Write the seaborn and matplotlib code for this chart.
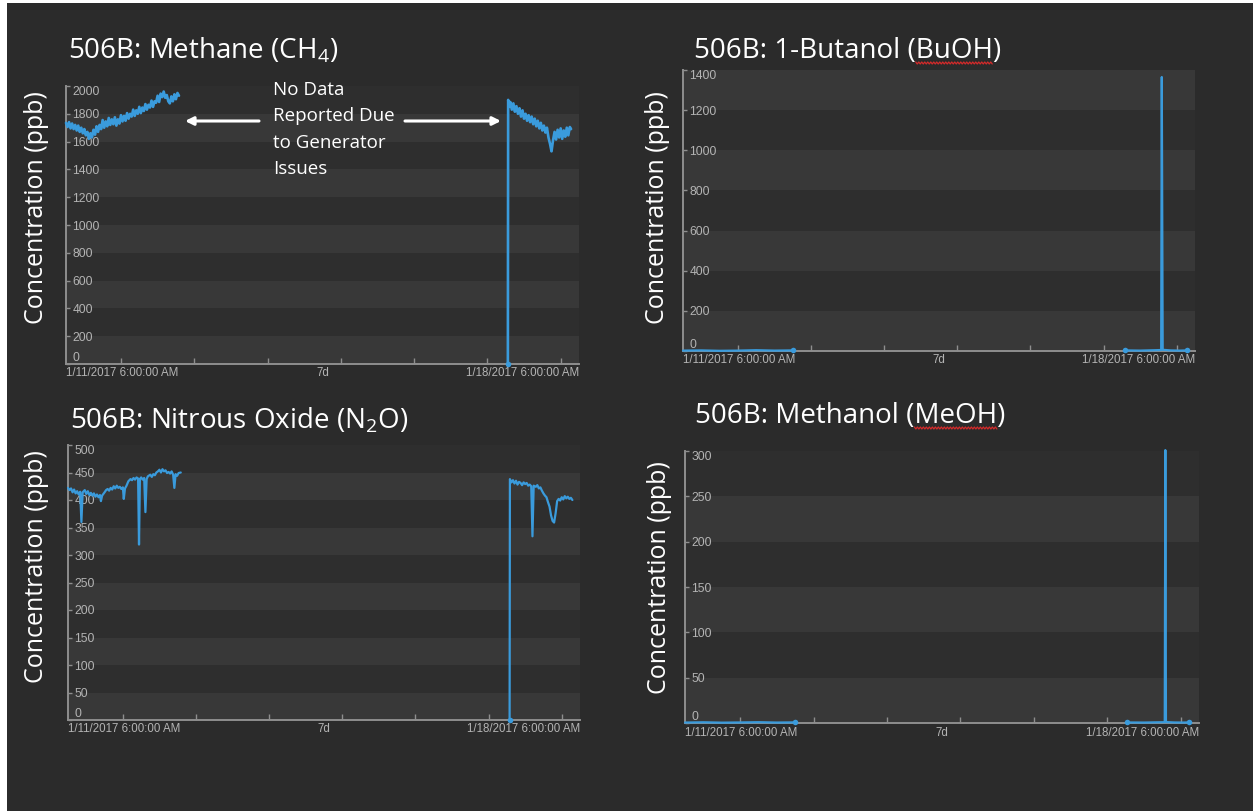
import numpy as np
import pandas as pd
import matplotlib
matplotlib.use("Agg")
import matplotlib.pyplot as plt
from matplotlib.lines import Line2D
from matplotlib.patches import Rectangle, FancyArrowPatch
from matplotlib.transforms import IdentityTransform
import seaborn as sns

# x values: hours after 1/11/2017 6:00 AM (7 day window)
CH4_H1 = [0, 0.5, 1, 1.5, 2, 2.5, 3, 3.5, 4, 4.5, 5, 5.5, 6, 6.5, 7, 7.5, 8, 8.5, 9, 9.5,
          10, 10.5, 11, 11.5, 12, 12.5, 13, 13.5, 14, 14.5, 15, 15.5, 16, 16.5, 17, 17.5,
          18, 18.5, 19, 19.5, 20, 20.5, 21, 21.5, 22, 22.5, 23, 23.5, 24, 24.5, 25, 25.5,
          26, 26.5, 27, 27.5, 28, 28.5, 29, 29.5, 30, 30.5, 31, 31.5, 32, 32.5, 33, 33.5,
          34, 34.5, 35, 35.5, 36, 36.5, 37]
CH4_V1 = [1735, 1705, 1740, 1695, 1730, 1690, 1720, 1680, 1715, 1670, 1700, 1660, 1690, 1645,
          1670, 1620, 1660, 1630, 1685, 1650, 1710, 1670, 1720, 1690, 1755, 1700, 1745, 1710,
          1770, 1720, 1760, 1725, 1775, 1715, 1760, 1730, 1790, 1745, 1785, 1750, 1805, 1765,
          1800, 1780, 1830, 1785, 1825, 1800, 1850, 1805, 1845, 1820, 1870, 1830, 1865, 1845,
          1895, 1850, 1890, 1880, 1930, 1885, 1945, 1920, 1960, 1915, 1935, 1890, 1875, 1925,
          1890, 1940, 1905, 1950, 1930]
CH4_H2 = [144.7, 144.8, 145.2, 145.5, 146, 146.5, 147, 147.5, 148, 148.5, 149, 149.5, 150,
          150.5, 151, 151.5, 152, 152.5, 153, 153.5, 154, 154.5, 155, 155.5, 156, 156.5, 157,
          157.5, 158, 158.5, 159, 159.5, 160, 160.5, 161, 161.5, 162, 162.5, 163, 163.5, 164,
          164.5, 165, 165.4]
CH4_V2 = [0, 1900, 1850, 1885, 1830, 1875, 1815, 1855, 1800, 1840, 1780, 1825, 1765,
          1800, 1750, 1790, 1740, 1780, 1725, 1765, 1710, 1750, 1695, 1735, 1680, 1715, 1665,
          1700, 1630, 1585, 1530, 1610, 1670, 1615, 1685, 1630, 1695, 1620, 1680, 1635, 1700,
          1645, 1705, 1690]

N2O_H1 = [0, 0.5, 1, 1.5, 2, 2.5, 3, 3.5, 4, 4.4, 4.8, 5.5, 6, 6.5, 7, 7.5, 8, 8.5, 9, 9.5,
          10, 10.5, 10.8, 11.2, 12, 12.5, 13, 13.5, 14, 14.5, 15, 15.5, 16, 16.5, 17, 17.5, 18,
          18.3, 18.7, 19.2, 19.8, 20.5, 21, 21.5, 22, 22.5, 23, 23.3, 23.6, 24, 24.5, 25, 25.4,
          25.8, 26.2, 27, 27.5, 28, 28.5, 29, 29.5, 30, 30.5, 31, 31.5, 32, 32.5, 33, 33.5, 34,
          34.5, 34.9, 35.3, 35.8, 36.3, 37]
N2O_V1 = [422, 418, 421, 414, 419, 412, 416, 410, 415, 360, 414, 418, 411, 416, 409, 413, 408,
          412, 406, 410, 405, 409, 398, 408, 414, 418, 420, 417, 422, 419, 425, 421, 426, 422,
          424, 420, 423, 402, 421, 426, 434, 438, 436, 440, 437, 441, 439, 319, 438, 441, 437,
          440, 378, 438, 443, 446, 442, 447, 445, 450, 452, 455, 450, 456, 452, 454, 449, 451,
          448, 452, 446, 422, 447, 444, 449, 450]
N2O_H2 = [144.9, 145.0, 145.5, 146, 146.5, 147, 147.5, 148, 148.5, 149, 149.5, 150, 150.5,
          151, 151.5, 152, 152.4, 152.8, 153.5, 154, 154.5, 155, 155.5, 156, 156.5, 157, 157.5,
          158, 158.5, 159, 159.5, 160, 160.5, 161, 161.5, 162, 162.5, 163, 163.5, 164, 164.5,
          165, 165.5]
N2O_V2 = [0, 438, 432, 436, 430, 435, 428, 433, 431, 427, 432, 429, 431, 426, 428, 425, 334,
          426, 424, 427, 421, 423, 417, 412, 408, 405, 396, 388, 372, 362, 359, 376, 398, 402,
          399, 405, 401, 407, 403, 406, 402, 404, 400]

BUOH_H1 = [0, 6, 12, 18, 24, 30, 36.2]
BUOH_V1 = [2, 3, 1, 2, 4, 2, 3]
BUOH_H2 = [145, 150, 155, 156.9, 157.1, 157.4, 160, 163, 165.4]
BUOH_V2 = [3, 2, 4, 5, 1365, 6, 3, 2, 3]

MEOH_H1 = [0, 6, 12, 18, 24, 30, 36]
MEOH_V1 = [0.5, 0.8, 0.4, 0.6, 0.9, 0.5, 0.7]
MEOH_H2 = [144.5, 150, 155, 156.8, 157.0, 157.2, 160, 163, 164.8]
MEOH_V2 = [0.6, 0.5, 0.8, 0.9, 301, 1.0, 0.6, 0.5, 0.7]

X_TICKS = [18, 42, 66, 90, 114, 138, 162]   # midnights
X_LABELS = ["1/11/2017 6:00:00 AM", "7d", "1/18/2017 6:00:00 AM"]
TITLES = ["506B: Methane (CH$_\\mathrm{4}$)", "506B: 1-Butanol (BuOH)",
          "506B: Nitrous Oxide (N$_\\mathrm{2}$O)", "506B: Methanol (MeOH)"]
YLABEL = "Concentration (ppb)"
NOTE = "No Data\nReported Due\nto Generator\nIssues"

BG = "#2b2b2b"
BAND_DARK = "#2e2e2e"
BAND_LIGHT = "#383838"
AXIS = "#8e8e8e"
TICK = "#b4b4b4"
LINE = "#3a9bdc"
W, H = 1253, 811

sns.set_theme(style="dark", rc={"axes.facecolor": BAND_DARK, "figure.facecolor": BG})
plt.rcParams["mathtext.fontset"] = "custom"
plt.rcParams["mathtext.rm"] = "Open Sans"
plt.rcParams["font.family"] = ["Open Sans", "DejaVu Sans"]

fig = plt.figure(figsize=(W / 100, H / 100), dpi=100, facecolor=BG)

# thin slide border seen at the left/top edge of the screenshot
fig.add_artist(Rectangle((0, 0), 7 / W, 1, transform=fig.transFigure, color="white", lw=0))
fig.add_artist(Rectangle((0, 1 - 3 / H), 1, 3 / H, transform=fig.transFigure, color="white", lw=0))


def px_axes(l, t, r, b):
    return fig.add_axes([l / W, 1 - b / H, (r - l) / W, (b - t) / H])


def draw_panel(ax, segs, ymax, ystep, dots, lw):
    frames = [pd.DataFrame({"hours": h, "ppb": v, "seg": i}) for i, (h, v) in enumerate(segs)]
    df = pd.concat(frames, ignore_index=True)

    ax.set_facecolor(BAND_DARK)
    for k, lo in enumerate(np.arange(0, ymax, ystep)):
        if k % 2 == 0:
            ax.axhspan(lo, lo + ystep, color=BAND_LIGHT, lw=0, zorder=0)

    sns.lineplot(data=df, x="hours", y="ppb", units="seg", estimator=None, color=LINE,
                 lw=lw, ax=ax, legend=False, clip_on=False, zorder=3)
    if dots:
        dx = [segs[i][0][j] for i, j in dots]
        dy = [segs[i][1][j] for i, j in dots]
        sns.scatterplot(x=dx, y=dy, color=LINE, s=16, linewidth=0, ax=ax,
                        clip_on=False, zorder=4)

    ax.set_xlim(0, 168)
    ax.set_ylim(0, ymax)
    ax.grid(False)
    ax.set_xlabel("")
    ax.set_ylabel("")
    for s in ["top", "right"]:
        ax.spines[s].set_visible(False)
    for s in ["left", "bottom"]:
        ax.spines[s].set_visible(True)
        ax.spines[s].set_color(AXIS)
        ax.spines[s].set_linewidth(1.4)

    ax.set_xticks(X_TICKS)
    ax.set_xticklabels([])
    ax.tick_params(axis="x", direction="in", length=4, width=1, color=AXIS, bottom=True)

    yt = np.arange(0, ymax + ystep / 2, ystep)
    ax.set_yticks(yt)
    ax.set_yticklabels([f"{v:g}" for v in yt])
    ax.tick_params(axis="y", direction="in", length=3, width=1, color=AXIS, left=True,
                   pad=-4.5, labelsize=8.7, labelcolor=TICK)
    labs = ax.get_yticklabels()
    for lab in labs:
        lab.set_ha("left")
        lab.set_family("Liberation Sans")
    labs[0].set_va("bottom")
    labs[-1].set_va("top")

    for txt, xf, ha in zip(X_LABELS, [0, 0.5, 1], ["left", "center", "right"]):
        ax.annotate(txt, xy=(xf, 0), xycoords="axes fraction", xytext=(0, -9.5),
                    textcoords="offset pixels", ha=ha, va="center", fontsize=8.3,
                    color=TICK, family="Liberation Sans")


panels = [
    ((66, 86, 579, 364), [(CH4_H1, CH4_V1), (CH4_H2, CH4_V2)], 2000, 200, [(1, 0)], 1.9),
    ((683, 70, 1195, 351), [(BUOH_H1, BUOH_V1), (BUOH_H2, BUOH_V2)], 1400, 200,
     [(0, -1), (1, 0), (1, -1)], 1.6),
    ((68, 445, 580, 720), [(N2O_H1, N2O_V1), (N2O_H2, N2O_V2)], 500, 50, [(1, 0)], 1.6),
    ((685, 451, 1199, 723), [(MEOH_H1, MEOH_V1), (MEOH_H2, MEOH_V2)], 300, 50,
     [(0, -1), (1, 0), (1, -1)], 1.6),
]
for box, segs, ymax, ystep, dots, lw in panels:
    draw_panel(px_axes(*box), segs, ymax, ystep, dots, lw)

# titles
title_pos = [(68, 58), (694, 58), (70, 428), (695, 423)]
title_objs = []
for txt, (x, y) in zip(TITLES, title_pos):
    title_objs.append(fig.text(x / W, 1 - y / H, txt, ha="left", va="baseline",
                               fontsize=20, color="white"))

# y labels
for x, y in [(37, 208), (657, 208), (37, 567), (659, 578)]:
    fig.text(x / W, 1 - y / H, YLABEL, rotation=90, ha="center", va="center",
             fontsize=18, color="white")

# gap annotation with arrows
fig.text(273 / W, 1 - 129.5 / H, NOTE, ha="left", va="center", linespacing=1.6,
         fontsize=13.5, color="white")
for x0, x1 in [(259, 185), (405, 501)]:
    fig.add_artist(FancyArrowPatch((x0, H - 121), (x1, H - 121), transform=IdentityTransform(),
                                   arrowstyle="-|>", mutation_scale=12, color="white",
                                   lw=2.2, shrinkA=0, shrinkB=0))

# spell-check squiggles under BuOH / MeOH
renderer = fig.canvas.get_renderer()
for t, prefix, word, base in [(title_objs[1], "506B: 1-Butanol (", "BuOH", 58),
                              (title_objs[3], "506B: Methanol (", "MeOH", 423)]:
    tmp = fig.text(*t.get_position(), prefix, fontproperties=t.get_fontproperties(),
                   va="baseline")
    xa = tmp.get_window_extent(renderer).x1
    tmp.set_text(prefix + word)
    xb = tmp.get_window_extent(renderer).x1
    tmp.remove()
    xs = np.arange(xa, xb, 1.5)
    ys = (H - base - 5) + np.where(np.arange(len(xs)) % 2 == 0, 1.0, -1.0)
    fig.add_artist(Line2D(xs, ys, transform=IdentityTransform(), color="#d42a2a", lw=0.9))

fig.savefig("out.png", dpi=100, facecolor=fig.get_facecolor())
